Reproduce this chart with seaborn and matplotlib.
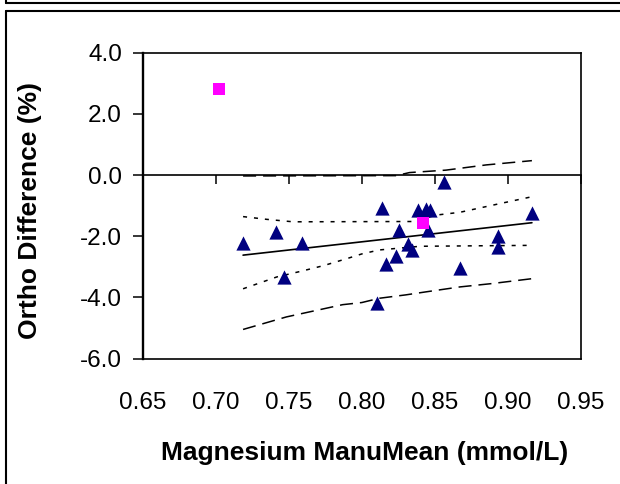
import matplotlib
matplotlib.use('Agg')
import matplotlib.pyplot as plt
import seaborn as sns
import pandas as pd
from matplotlib.lines import Line2D

# ---- data ----
tri_x = [0.7187, 0.7415, 0.7467, 0.7593, 0.8105, 0.8139, 0.8167, 0.8235, 0.8251, 0.8319,
         0.8342, 0.8385, 0.8440, 0.8469, 0.8451, 0.8565, 0.8672, 0.8932, 0.8932, 0.9164]
tri_y = [-2.23, -1.85, -3.35, -2.23, -4.20, -1.09, -2.92, -2.65, -1.80, -2.27,
         -2.45, -1.14, -1.12, -1.14, -1.80, -0.24, -3.05, -1.99, -2.34, -1.25]

sq_x = [0.7021, 0.8417]
sq_y = [2.81, -1.58]

fit_x = [0.7187, 0.9164]
fit_y = [-2.62, -1.56]

ci_up_x = [0.7187, 0.735, 0.753, 0.835, 0.851, 0.867, 0.893, 0.9164]
ci_up_y = [-1.36, -1.45, -1.53, -1.52, -1.31, -1.22, -0.95, -0.71]
ci_lo_x = [0.7187, 0.742, 0.759, 0.774, 0.790, 0.800, 0.812, 0.840, 0.9164]
ci_lo_y = [-3.72, -3.33, -3.14, -2.96, -2.73, -2.58, -2.45, -2.33, -2.30]

pi_up_x = [0.7187, 0.8235, 0.8326, 0.8576, 0.885, 0.9164]
pi_up_y = [-0.03, -0.02, 0.08, 0.16, 0.33, 0.47]
pi_lo_x = [0.7187, 0.7484, 0.7868, 0.800, 0.812, 0.830, 0.844, 0.867, 0.889, 0.9164]
pi_lo_y = [-5.05, -4.64, -4.24, -4.17, -4.03, -3.92, -3.82, -3.66, -3.55, -3.39]

x_ticks = [0.65, 0.70, 0.75, 0.80, 0.85, 0.90, 0.95]
x_labels = ["0.65", "0.70", "0.75", "0.80", "0.85", "0.90", "0.95"]
y_ticks = [-6, -4, -2, 0, 2, 4]
y_labels = ["-6.0", "-4.0", "-2.0", "0.0", "2.0", "4.0"]

x_title = "Magnesium ManuMean (mmol/L)"
y_title = "Ortho Difference (%)"

# ---- style ----
sns.set_style('ticks')
plt.rcParams['font.family'] = ['Liberation Sans', 'DejaVu Sans']
plt.rcParams['lines.scale_dashes'] = False

W, H = 620, 484
fig = plt.figure(figsize=(W / 100, H / 100), dpi=100)
fig.patch.set_facecolor('white')
ax = fig.add_axes([142.7 / W, 1 - 358.5 / H, (581 - 142.7) / W, (358.5 - 52.7) / H])

long_dash = (0, (9.4, 5.0))
short_dash = (0, (2.9, 5.0))

sns.lineplot(x=pi_up_x, y=pi_up_y, ax=ax, color='black', lw=1.1, linestyle=long_dash,
             estimator=None, sort=False)
sns.lineplot(x=pi_lo_x, y=pi_lo_y, ax=ax, color='black', lw=1.1, linestyle=long_dash,
             estimator=None, sort=False)
sns.lineplot(x=ci_up_x, y=ci_up_y, ax=ax, color='black', lw=1.1, linestyle=short_dash,
             estimator=None, sort=False)
sns.lineplot(x=ci_lo_x, y=ci_lo_y, ax=ax, color='black', lw=1.1, linestyle=short_dash,
             estimator=None, sort=False)
sns.lineplot(x=fit_x, y=fit_y, ax=ax, color='black', lw=1.2, estimator=None, sort=False)

sns.scatterplot(x=tri_x, y=tri_y, ax=ax, marker='^', s=105, color='#000080',
                linewidth=0, zorder=4)
sns.scatterplot(x=sq_x, y=sq_y, ax=ax, marker='s', s=74, color='#FF00FF',
                linewidth=0, zorder=5)

ax.set_xlim(0.65, 0.95)
ax.set_ylim(-6, 4)

for side in ['top', 'right', 'bottom']:
    ax.spines[side].set_visible(True)
    ax.spines[side].set_linewidth(1.2)
    ax.spines[side].set_color('black')
ax.spines['left'].set_linewidth(1.7)
ax.spines['left'].set_color('black')
ax.spines['bottom'].set_position(('data', 0))

ax.set_xticks(x_ticks)
ax.tick_params(axis='x', direction='out', length=6.5, width=1.1, color='black',
               labelbottom=False)
ax.set_yticks(y_ticks, y_labels)
ax.tick_params(axis='y', direction='out', length=7.2, width=1.1, color='black',
               pad=7.7, labelsize=17.5, labelcolor='black')

sec = ax.secondary_xaxis('bottom')
sec.set_xticks(x_ticks, x_labels)
sec.tick_params(length=0, pad=24, labelsize=17.5, labelcolor='black')
sec.spines['bottom'].set_linewidth(1.2)
sec.spines['bottom'].set_color('black')

ax.set_xlabel(x_title, fontsize=19, fontweight='bold', color='black')
ax.xaxis.set_label_coords(0.506, -0.27)
ax.set_ylabel(y_title, fontsize=19, fontweight='bold', color='black')
ax.yaxis.set_label_coords(-0.2297, 0.484)

# outer frames
def fline(xs, ys):
    fig.add_artist(Line2D([x / W for x in xs], [1 - y / H for y in ys],
                          transform=fig.transFigure, color='black', lw=1.5))

fline([6, W], [3, 3])
fline([6, 6], [0, 3])
fline([6, W], [11, 11])
fline([6, 6], [11, H])

fig.savefig('out.png', dpi=100)
